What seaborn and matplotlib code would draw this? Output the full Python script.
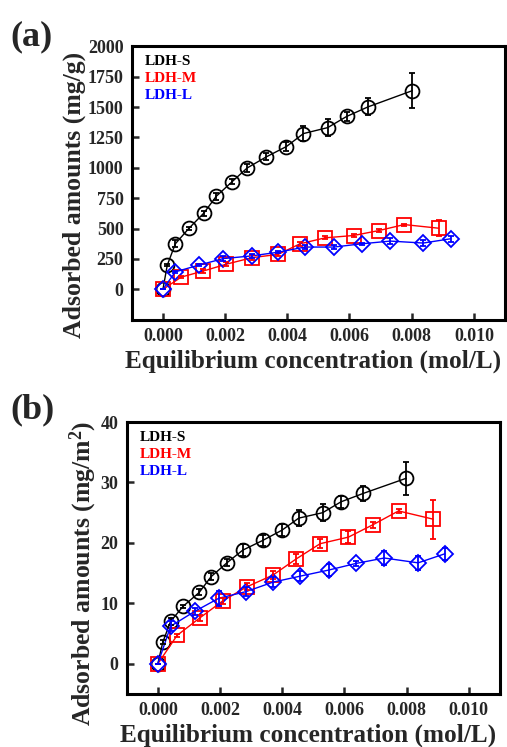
import numpy as np
import pandas as pd
import matplotlib
matplotlib.use("Agg")
import matplotlib.pyplot as plt
import seaborn as sns

# ---------------- data ----------------
series_names = ["LDH-S", "LDH-M", "LDH-L"]
series_colors = ["#000000", "#ff0000", "#0000ff"]
series_markers = ["o", "s", "D"]

# panel (a): mg/g
a_S_x = [0.0, 0.00014, 0.00040, 0.00084, 0.00131, 0.00172, 0.00223, 0.00271, 0.00333, 0.00397, 0.00452, 0.00530, 0.00591, 0.00660, 0.00802]
a_S_y = [0, 199, 375, 503, 626, 767, 887, 999, 1091, 1175, 1282, 1331, 1423, 1502, 1635]
a_S_e = [0, 8, 30, 12, 22, 28, 22, 30, 30, 40, 65, 68, 40, 70, 145]

a_M_x = [0.0, 0.00059, 0.00129, 0.00204, 0.00287, 0.00371, 0.00441, 0.00522, 0.00613, 0.00695, 0.00776, 0.00887]
a_M_y = [0, 101, 150, 207, 261, 288, 375, 424, 443, 484, 533, 503]
a_M_e = [0, 8, 15, 15, 18, 15, 15, 12, 15, 10, 8, 65]

a_L_x = [0.0, 0.00040, 0.00115, 0.00194, 0.00285, 0.00369, 0.00457, 0.00550, 0.00640, 0.00731, 0.00837, 0.00925]
a_L_y = [0, 144, 199, 253, 275, 305, 348, 348, 375, 397, 381, 416]
a_L_e = [0, 8, 8, 22, 15, 10, 18, 18, 8, 22, 22, 25]

# panel (b): mg/m2
b_S_x = [0.0, 0.00016, 0.00041, 0.00081, 0.00133, 0.00171, 0.00222, 0.00273, 0.00337, 0.00399, 0.00453, 0.00530, 0.00589, 0.00661, 0.00799]
b_S_y = [0, 3.6, 7.0, 9.5, 11.8, 14.4, 16.7, 18.8, 20.4, 22.1, 24.1, 25.0, 26.8, 28.2, 30.7]
b_S_e = [0, 0.3, 0.6, 0.3, 0.5, 0.6, 0.6, 1.0, 0.9, 1.0, 1.3, 1.4, 1.0, 1.2, 2.7]

b_M_x = [0.0, 0.00062, 0.00134, 0.00210, 0.00287, 0.00370, 0.00445, 0.00522, 0.00613, 0.00693, 0.00774, 0.00886]
b_M_y = [0, 4.7, 7.55, 10.45, 12.75, 14.67, 17.35, 19.87, 20.96, 23.04, 25.29, 23.92]
b_M_e = [0, 0.2, 0.5, 0.5, 0.6, 0.6, 0.8, 0.7, 1.0, 0.5, 0.4, 3.2]

b_L_x = [0.0, 0.00041, 0.00118, 0.00196, 0.00283, 0.00370, 0.00458, 0.00549, 0.00637, 0.00728, 0.00837, 0.00923]
b_L_y = [0, 6.2, 8.65, 10.84, 11.93, 13.5, 14.5, 15.5, 16.6, 17.5, 16.7, 18.2]
b_L_e = [0, 0.8, 0.5, 1.2, 0.7, 0.8, 0.8, 1.0, 0.4, 1.2, 1.2, 1.0]

x_ticks = [0.000, 0.002, 0.004, 0.006, 0.008, 0.010]
a_y_ticks = [0, 250, 500, 750, 1000, 1250, 1500, 1750, 2000]
b_y_ticks = [0, 10, 20, 30, 40]

x_label = "Equilibrium concentration (mol/L)"
a_y_label = "Adsorbed amounts (mg/g)"
b_y_label = "Adsorbed amounts (mg/m$^\\mathbf{2}$)"

# ---------------- style ----------------
sns.set_theme(style="ticks")
plt.rcParams["font.family"] = ["Liberation Serif", "DejaVu Serif"]
plt.rcParams["font.weight"] = "bold"
plt.rcParams["mathtext.fontset"] = "custom"
plt.rcParams["mathtext.rm"] = "Liberation Serif:bold"
plt.rcParams["mathtext.bf"] = "Liberation Serif:bold"
plt.rcParams["mathtext.it"] = "Liberation Serif:bold"

fig = plt.figure(figsize=(5.07, 7.47), dpi=100)
ax_a = fig.add_axes([0.260, 0.572, 0.736, 0.366])
ax_b = fig.add_axes([0.250, 0.071, 0.736, 0.364])

ms_map = {"o": 10, "s": 9.5, "D": 8.3}


def draw_panel(ax, data, ylim, yticks, ylabel, xlab_x, ylab_y):
    for (xs, ys, es), name, col, mk in zip(data, series_names, series_colors, series_markers):
        df = pd.DataFrame({"x": xs, "y": ys})
        sns.lineplot(data=df, x="x", y="y", ax=ax, sort=False, color=col,
                     marker=mk, markersize=ms_map[mk], markerfacecolor="none",
                     markeredgecolor=col, markeredgewidth=1.3, linewidth=1.0,
                     zorder=3)
        ax.errorbar(xs, ys, yerr=es, fmt="none", ecolor=col, elinewidth=1.3,
                    capsize=2.5, capthick=1.3, zorder=4)
    ax.set_xlim(-0.001, 0.011)
    ax.set_ylim(*ylim)
    ax.set_xticks(x_ticks)
    ax.set_xticklabels([f"{t:.3f}" for t in x_ticks])
    ax.set_yticks(yticks)
    ax.set_yticklabels([str(t) for t in yticks])
    ax.tick_params(direction="in", length=5, width=1.8, labelsize=13, pad=6,
                   top=False, right=False)
    for lab in ax.get_xticklabels() + ax.get_yticklabels():
        lab.set_fontweight("bold")
    for sp in ax.spines.values():
        sp.set_visible(True)
        sp.set_linewidth(2.2)
        sp.set_color("black")
    ax.set_xlabel(x_label, fontsize=18.2, fontweight="bold", labelpad=3)
    ax.set_ylabel(ylabel, fontsize=18.5, fontweight="bold", labelpad=1)
    ax.xaxis.label.set_x(xlab_x)
    ax.yaxis.label.set_y(ylab_y)
    for i, (name, col) in enumerate(zip(series_names, series_colors)):
        ax.text(0.035, 0.945 - i * 0.063, name, color=col, fontsize=11,
                fontweight="bold", transform=ax.transAxes, va="center", ha="left")


draw_panel(ax_a, [(a_S_x, a_S_y, a_S_e), (a_M_x, a_M_y, a_M_e), (a_L_x, a_L_y, a_L_e)],
           (-250, 2000), a_y_ticks, a_y_label, 0.485, 0.455)
draw_panel(ax_b, [(b_S_x, b_S_y, b_S_e), (b_M_x, b_M_y, b_M_e), (b_L_x, b_L_y, b_L_e)],
           (-5, 40), b_y_ticks, b_y_label, 0.487, 0.445)

fig.text(0.02, 0.951, "(a)", fontsize=26, fontweight="bold", va="center", ha="left")
fig.text(0.02, 0.452, "(b)", fontsize=26, fontweight="bold", va="center", ha="left")

fig.savefig("out.png", dpi=100)
